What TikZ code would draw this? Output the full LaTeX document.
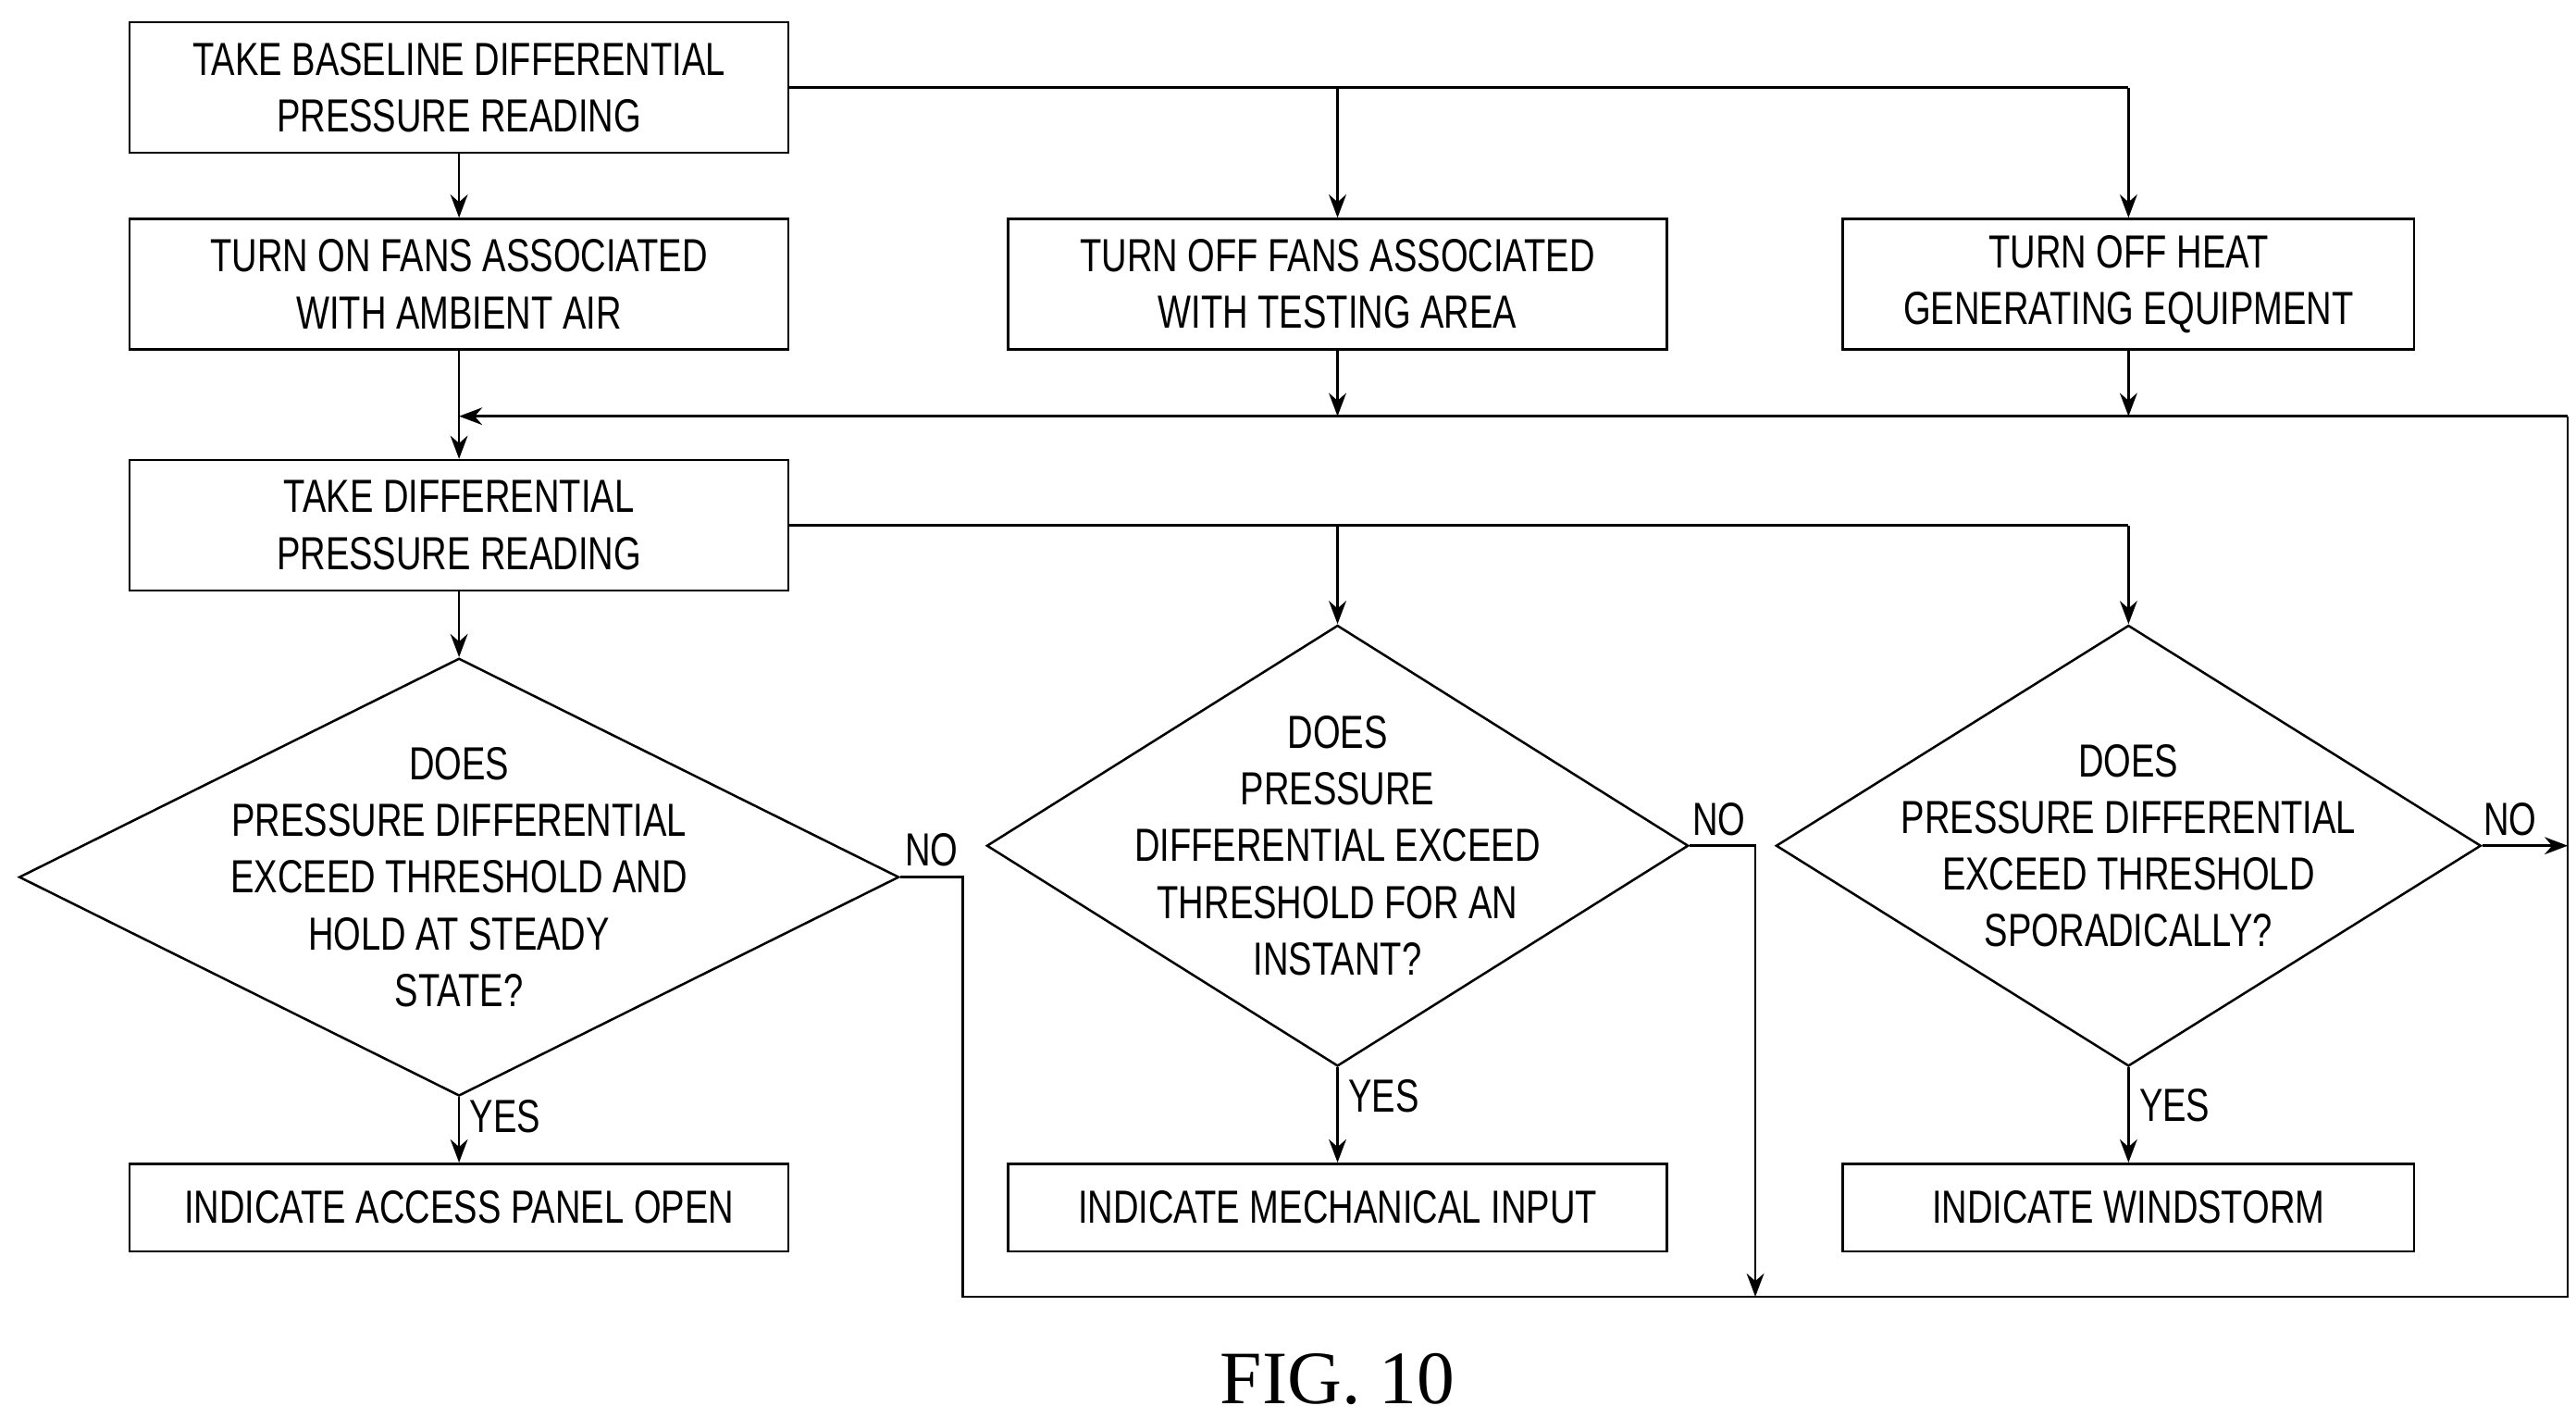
\documentclass[tikz,border=0pt]{standalone}
\usepackage{fontspec}
\setmainfont{Liberation Sans}[FakeStretch=0.76]
\newfontfamily\figfont{Liberation Serif}
\usetikzlibrary{shapes.geometric,arrows.meta}

\begin{document}
\begin{tikzpicture}[x=0.02cm, y=-0.02cm,
    process/.style={rectangle, draw=black, thick, minimum width=7.98cm,
        minimum height=1.58cm, align=center, inner sep=0pt,
        font=\fontsize{16}{19.5}\selectfont},
    outbox/.style={process, minimum height=1.06cm},
    decision/.style={diamond, draw=black, thick, inner sep=0pt},
    qtext/.style={align=center, font=\fontsize{16}{19.5}\selectfont},
    lbl/.style={font=\fontsize{16}{19.5}\selectfont},
    flow/.style={thick, -{Stealth[length=8pt, width=6pt]}},
    line/.style={thick}
]
    \useasboundingbox (0,0) rectangle (1560,858);
    \node[process] (base) at (278,53) {TAKE BASELINE DIFFERENTIAL\\PRESSURE READING};
    \node[process] (fanson) at (278,172) {TURN ON FANS ASSOCIATED\\WITH AMBIENT AIR};
    \node[process] (fansoff) at (810,172) {TURN OFF FANS ASSOCIATED\\WITH TESTING AREA};
    \node[process, minimum width=6.92cm] (heat) at (1289,172) {TURN OFF HEAT\\GENERATING EQUIPMENT};
    \node[process] (read) at (278,318) {TAKE DIFFERENTIAL\\PRESSURE READING};
    \node[decision, minimum width=10.66cm, minimum height=5.3cm] (steady) at (278,531) {};
    \node[qtext] at (steady) {DOES\\PRESSURE DIFFERENTIAL\\EXCEED THRESHOLD AND\\HOLD AT STEADY\\STATE?};
    \node[decision, minimum width=8.5cm, minimum height=5.34cm] (instant) at (810,512) {};
    \node[qtext] at (instant) {DOES\\PRESSURE\\DIFFERENTIAL EXCEED\\THRESHOLD FOR AN\\INSTANT?};
    \node[decision, minimum width=8.54cm, minimum height=5.34cm] (sporadic) at (1289,512) {};
    \node[qtext] at (sporadic) {DOES\\PRESSURE DIFFERENTIAL\\EXCEED THRESHOLD\\SPORADICALLY?};
    \node[outbox] (panel) at (278,731) {INDICATE ACCESS PANEL OPEN};
    \node[outbox] (mech) at (810,731) {INDICATE MECHANICAL INPUT};
    \node[outbox, minimum width=6.92cm] (wind) at (1289,731) {INDICATE WINDSTORM};
    \node[font=\figfont\fontsize{26}{30}\selectfont] (fig) at (810,835) {FIG. 10};
    % corner points of the return loop
    \coordinate (loop) at (278,252);
    \coordinate (right) at (1555,512);
    \coordinate (nobend) at (583,531);
    \coordinate (mid) at (1063,512);
    % top row
    \draw[flow] (base) -- (fanson);
    \draw[line] (base.east) -| (1289,53);
    \draw[flow] (810,53) -- (fansoff);
    \draw[flow] (1289,53) -- (heat);
    \draw[flow] (fanson) -- (read);
    \draw[flow] (fansoff) -- (810,252);
    \draw[flow] (heat) -- (1289,252);
    \draw[flow] (1555,252) -- (loop);
    % tests
    \draw[flow] (read) -- (steady);
    \draw[line] (read.east) -| (1289,318);
    \draw[flow] (810,318) -- (instant);
    \draw[flow] (1289,318) -- (sporadic);
    \draw[flow] (steady) -- node[lbl, right, pos=0.3] {YES} (panel);
    \draw[flow] (instant) -- node[lbl, right, pos=0.3] {YES} (mech);
    \draw[flow] (sporadic) -- node[lbl, right, pos=0.4] {YES} (wind);
    % no branches
    \draw[line] (steady.east) -- node[lbl, above, pos=0.5] {NO} (nobend) |- (1555,785) -- (1555,252);
    \draw[flow] (instant.east) -- (mid) -- (1063,785);
    \node[lbl, above] at (1041,512) {NO};
    \draw[flow] (sporadic.east) -- (right);
    \node[lbl, above] at (1520,512) {NO};
\end{tikzpicture}
\end{document}
